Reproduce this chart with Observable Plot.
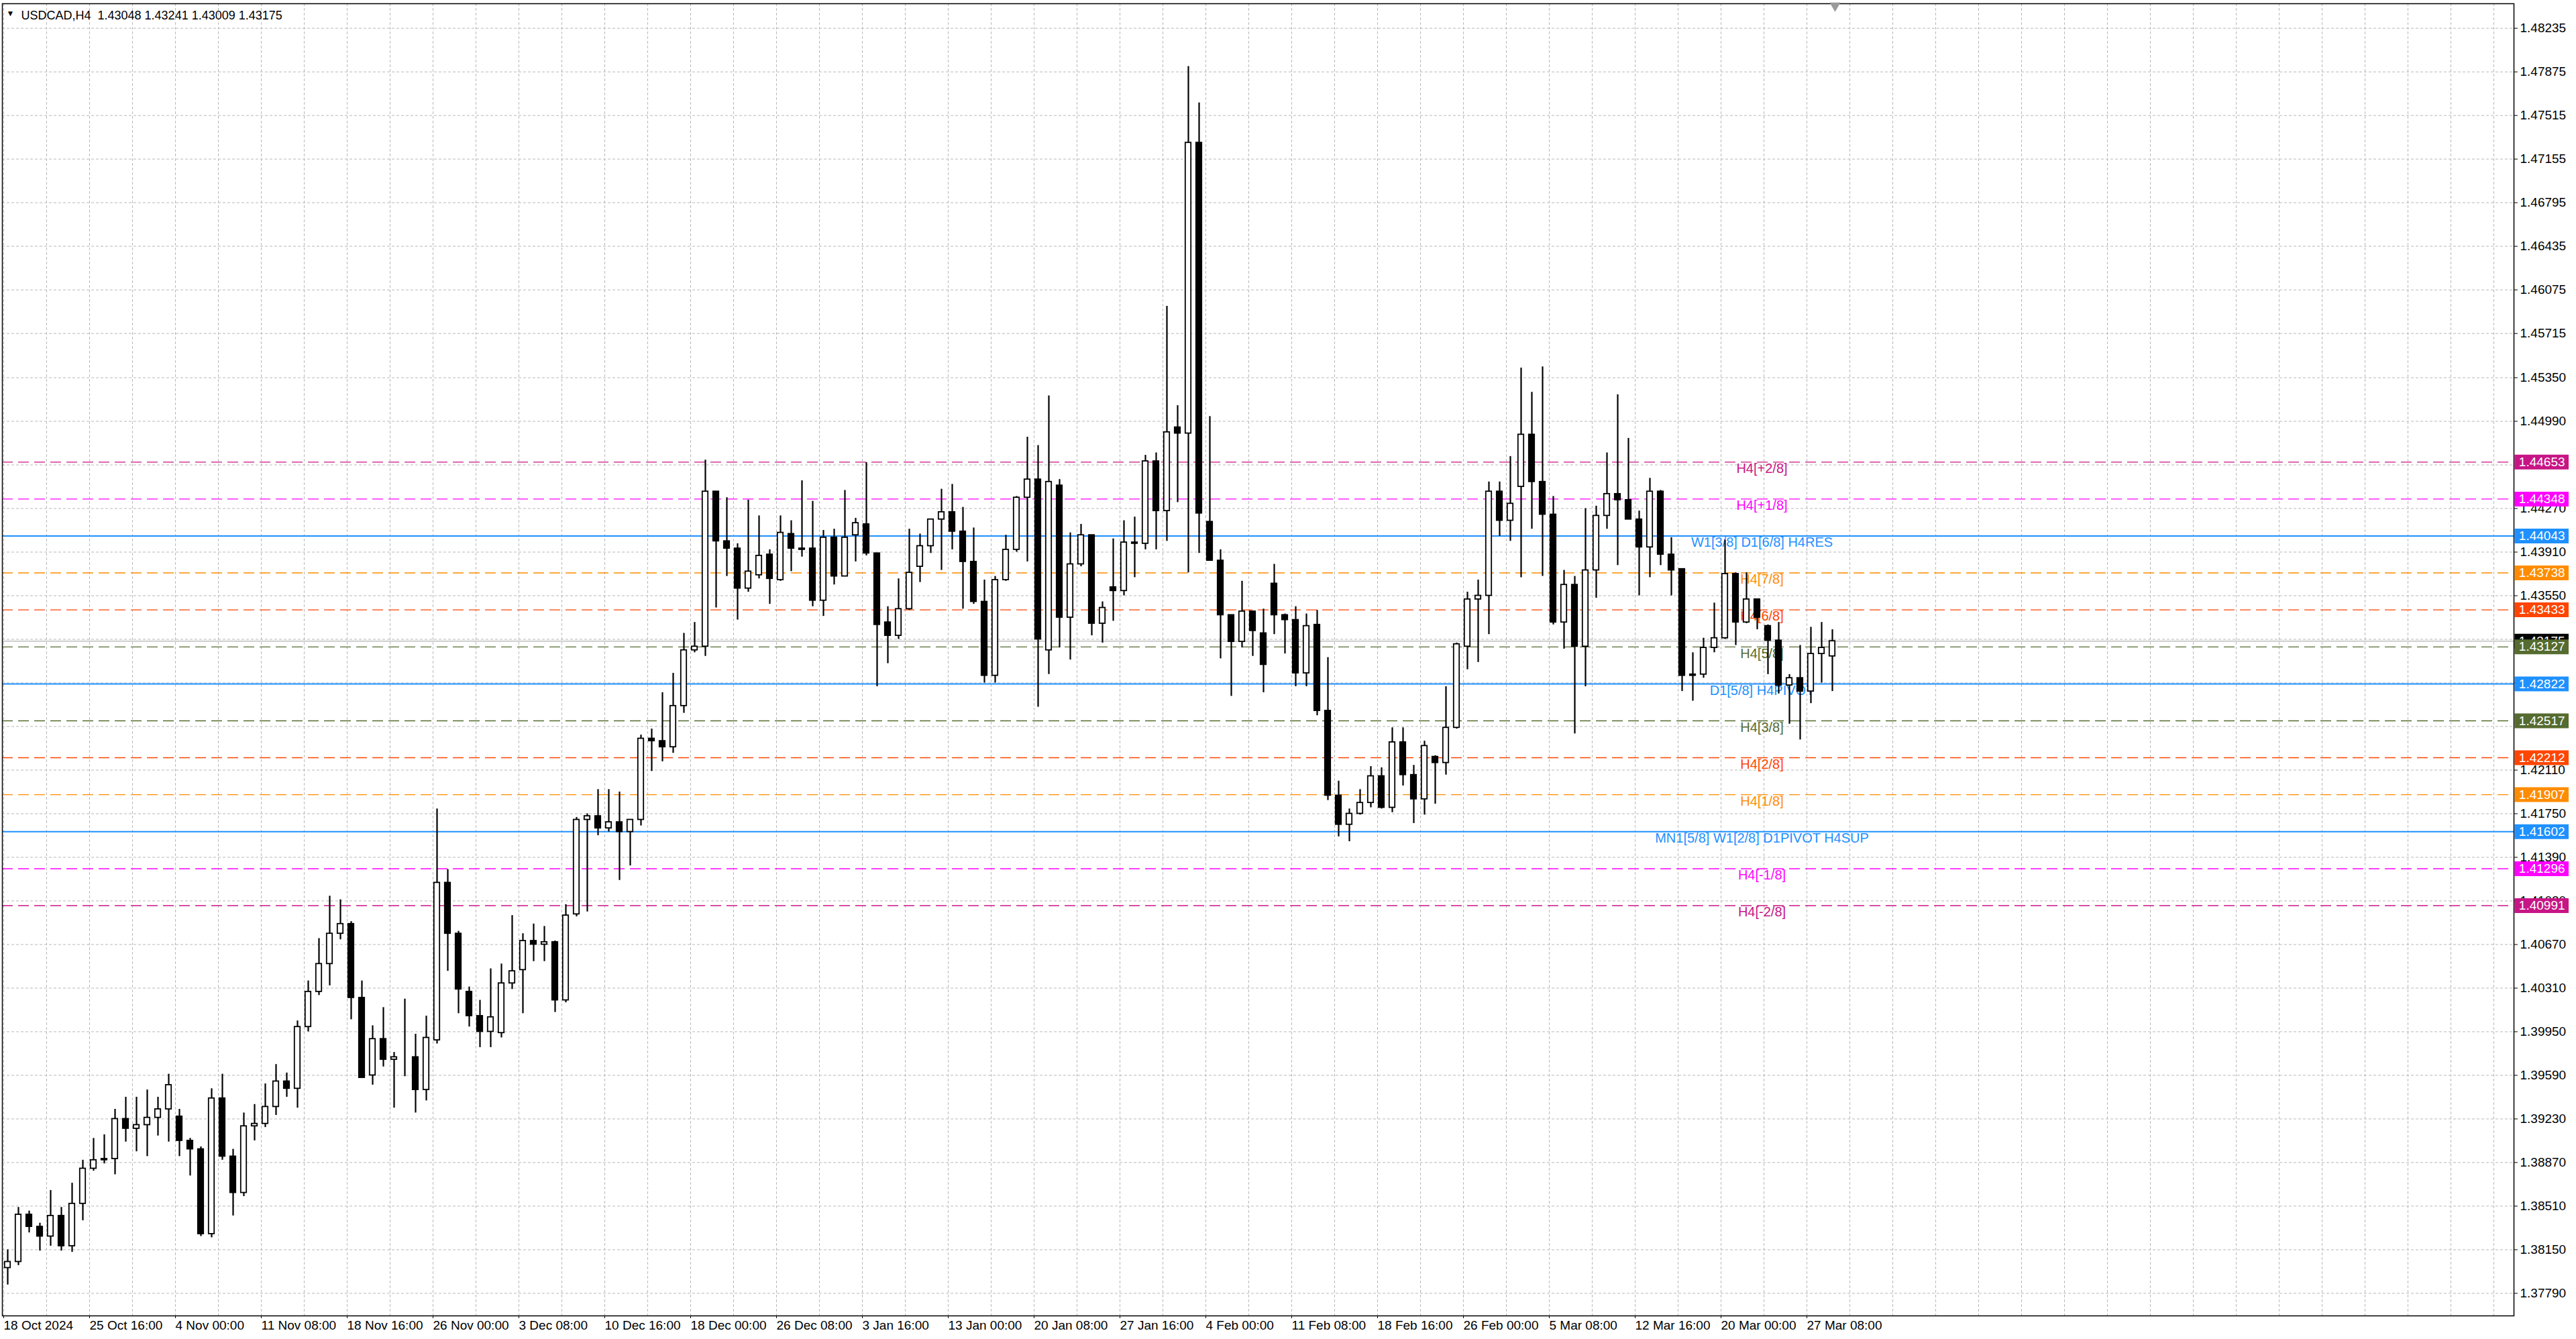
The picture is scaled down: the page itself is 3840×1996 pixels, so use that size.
<!DOCTYPE html>
<html>
<head>
<meta charset="utf-8">
<script src="https://cdn.jsdelivr.net/npm/d3@7"></script>
<script src="https://cdn.jsdelivr.net/npm/@observablehq/plot@0.6"></script>
<style>
  html, body { margin: 0; padding: 0; background: #fff; }
  #chart svg { display: block; }
</style>
</head>
<body>
<div id="chart"></div>
<script>
// USDCAD H4, one candle per 4 bars
const symbolTitle = 'USDCAD,H4'
const lastQuote = ['1.43048', '1.43241', '1.43009', '1.43175']

const open = [
  1.3800, 1.3805, 1.3844, 1.3834, 1.3826, 1.3843, 1.3818, 1.3853, 1.3882, 1.3889,
  1.3890, 1.3923, 1.3915, 1.3918, 1.3924, 1.3931, 1.3925, 1.3905, 1.3898, 1.3828,
  1.3940, 1.3892, 1.3862, 1.3917, 1.3919, 1.3933, 1.3954, 1.3948, 1.3999, 1.4028,
  1.4051, 1.4076, 1.4084, 1.4023, 1.3959, 1.3989, 1.3972, 1.3974, 1.3974, 1.3947,
  1.3988, 1.4118, 1.4076, 1.4028, 1.4008, 1.3995, 1.3994, 1.4035, 1.4046, 1.4070,
  1.4067, 1.4069, 1.4021, 1.4092, 1.4170, 1.4173, 1.4163, 1.4168, 1.4160, 1.4170,
  1.4237, 1.4235, 1.4230, 1.4264, 1.4310, 1.4313, 1.4441, 1.4400, 1.4394, 1.4361,
  1.4372, 1.4389, 1.4368, 1.4406, 1.4394, 1.4394, 1.4351, 1.4403, 1.4371, 1.4405,
  1.4414, 1.4390, 1.4333, 1.4322, 1.4344, 1.4379, 1.4396, 1.4418, 1.4424, 1.4408,
  1.4383, 1.4350, 1.4289, 1.4368, 1.4393, 1.4436, 1.4451, 1.4310, 1.4446, 1.4337,
  1.4381, 1.4405, 1.4332, 1.4362, 1.4359, 1.4399, 1.4398, 1.4466, 1.4425, 1.4494,
  1.4489, 1.4729, 1.4416, 1.4384, 1.4339, 1.4317, 1.4342, 1.4324, 1.4365, 1.4339,
  1.4335, 1.4291, 1.4331, 1.4260, 1.4190, 1.4166, 1.4175, 1.4184, 1.4206, 1.4180,
  1.4234, 1.4207, 1.4187, 1.4222, 1.4217, 1.4246, 1.4313, 1.4352, 1.4355, 1.4441,
  1.4417, 1.4445, 1.4488, 1.4449, 1.4422, 1.4333, 1.4364, 1.4313, 1.4376, 1.4421,
  1.4439, 1.4434, 1.4418, 1.4395, 1.4441, 1.4389, 1.4377, 1.4289, 1.4290, 1.4312,
  1.4320, 1.4373, 1.4333, 1.4352, 1.4330, 1.4318, 1.4281, 1.4287, 1.4276, 1.4307,
  1.4305
]
const high = [
  1.3815, 1.3850, 1.3847, 1.3837, 1.3864, 1.3850, 1.3870, 1.3889, 1.3907, 1.3910,
  1.3931, 1.3941, 1.3941, 1.3947, 1.3941, 1.3960, 1.3931, 1.3907, 1.3900, 1.3948,
  1.3960, 1.3898, 1.3928, 1.3935, 1.3952, 1.3968, 1.3961, 1.4004, 1.4037, 1.4072,
  1.4107, 1.4104, 1.4086, 1.4037, 1.4000, 1.4015, 1.3978, 1.4022, 1.3993, 1.4008,
  1.4179, 1.4129, 1.4078, 1.4032, 1.4021, 1.4047, 1.4051, 1.4091, 1.4076, 1.4084,
  1.4082, 1.4070, 1.4100, 1.4172, 1.4175, 1.4195, 1.4195, 1.4193, 1.4165, 1.4240,
  1.4245, 1.4275, 1.4291, 1.4324, 1.4333, 1.4467, 1.4441, 1.4436, 1.4398, 1.4434,
  1.4421, 1.4393, 1.4421, 1.4417, 1.4450, 1.4433, 1.4409, 1.4410, 1.4442, 1.4419,
  1.4465, 1.4390, 1.4346, 1.4369, 1.4410, 1.4406, 1.4418, 1.4443, 1.4447, 1.4428,
  1.4411, 1.4368, 1.4371, 1.4405, 1.4437, 1.4486, 1.4479, 1.4520, 1.4451, 1.4407,
  1.4414, 1.4405, 1.4350, 1.4402, 1.4417, 1.4420, 1.4471, 1.4473, 1.4594, 1.4512,
  1.4792, 1.4762, 1.4503, 1.4393, 1.4339, 1.4367, 1.4342, 1.4344, 1.4381, 1.4340,
  1.4346, 1.4340, 1.4343, 1.4304, 1.4202, 1.4179, 1.4195, 1.4214, 1.4213, 1.4246,
  1.4246, 1.4215, 1.4235, 1.4223, 1.4280, 1.4316, 1.4358, 1.4368, 1.4449, 1.4449,
  1.4470, 1.4543, 1.4523, 1.4544, 1.4437, 1.4376, 1.4371, 1.4427, 1.4429, 1.4473,
  1.4521, 1.4485, 1.4425, 1.4452, 1.4442, 1.4403, 1.4377, 1.4308, 1.4320, 1.4349,
  1.4401, 1.4374, 1.4374, 1.4352, 1.4331, 1.4333, 1.4290, 1.4314, 1.4329, 1.4333,
  1.4327
]
const low = [
  1.3786, 1.3802, 1.3829, 1.3814, 1.3818, 1.3814, 1.3813, 1.3839, 1.3880, 1.3886,
  1.3877, 1.3904, 1.3896, 1.3892, 1.3909, 1.3904, 1.3892, 1.3876, 1.3826, 1.3825,
  1.3889, 1.3843, 1.3859, 1.3905, 1.3916, 1.3926, 1.3941, 1.3932, 1.3995, 1.4025,
  1.4033, 1.4071, 1.4005, 1.3957, 1.3951, 1.3966, 1.3932, 1.3958, 1.3928, 1.3938,
  1.3985, 1.4045, 1.4010, 1.3999, 1.3982, 1.3982, 1.3990, 1.4030, 1.4010, 1.4053,
  1.4053, 1.4011, 1.4019, 1.4090, 1.4094, 1.4157, 1.4160, 1.4120, 1.4132, 1.4165,
  1.4210, 1.4218, 1.4225, 1.4258, 1.4308, 1.4305, 1.4345, 1.4371, 1.4335, 1.4358,
  1.4369, 1.4348, 1.4367, 1.4375, 1.4387, 1.4346, 1.4338, 1.4364, 1.4371, 1.4383,
  1.4388, 1.4280, 1.4299, 1.4319, 1.4343, 1.4366, 1.4390, 1.4376, 1.4393, 1.4344,
  1.4348, 1.4283, 1.4283, 1.4367, 1.4391, 1.4383, 1.4263, 1.4290, 1.4312, 1.4302,
  1.4379, 1.4322, 1.4316, 1.4334, 1.4355, 1.4370, 1.4393, 1.4393, 1.4400, 1.4432,
  1.4374, 1.4390, 1.4384, 1.4303, 1.4272, 1.4312, 1.4305, 1.4275, 1.4323, 1.4307,
  1.4280, 1.4280, 1.4256, 1.4186, 1.4156, 1.4152, 1.4174, 1.4180, 1.4179, 1.4176,
  1.4198, 1.4167, 1.4174, 1.4183, 1.4207, 1.4245, 1.4294, 1.4300, 1.4323, 1.4404,
  1.4400, 1.4370, 1.4410, 1.4371, 1.4331, 1.4311, 1.4241, 1.4280, 1.4353, 1.4410,
  1.4380, 1.4418, 1.4355, 1.4370, 1.4380, 1.4355, 1.4276, 1.4268, 1.4287, 1.4308,
  1.4319, 1.4314, 1.4332, 1.4327, 1.4290, 1.4274, 1.4249, 1.4236, 1.4266, 1.4283,
  1.4276
]
const close = [
  1.3805, 1.3844, 1.3834, 1.3826, 1.3843, 1.3818, 1.3853, 1.3882, 1.3889, 1.3890,
  1.3923, 1.3915, 1.3918, 1.3924, 1.3931, 1.3951, 1.3905, 1.3898, 1.3828, 1.3940,
  1.3892, 1.3862, 1.3917, 1.3919, 1.3933, 1.3954, 1.3948, 1.3999, 1.4028, 1.4051,
  1.4076, 1.4084, 1.4023, 1.3957, 1.3989, 1.3972, 1.3974, 1.3974, 1.3947, 1.3990,
  1.4118, 1.4076, 1.4030, 1.4008, 1.3995, 1.4007, 1.4035, 1.4045, 1.4070, 1.4067,
  1.4069, 1.4021, 1.4091, 1.4170, 1.4173, 1.4163, 1.4168, 1.4160, 1.4170, 1.4237,
  1.4235, 1.4230, 1.4264, 1.4310, 1.4313, 1.4441, 1.4400, 1.4394, 1.4361, 1.4375,
  1.4388, 1.4369, 1.4407, 1.4394, 1.4393, 1.4351, 1.4403, 1.4371, 1.4403, 1.4415,
  1.4390, 1.4331, 1.4322, 1.4344, 1.4374, 1.4396, 1.4418, 1.4424, 1.4408, 1.4383,
  1.4350, 1.4289, 1.4368, 1.4393, 1.4436, 1.4451, 1.4319, 1.4449, 1.4337, 1.4381,
  1.4405, 1.4332, 1.4345, 1.4359, 1.4399, 1.4398, 1.4466, 1.4425, 1.4490, 1.4489,
  1.4729, 1.4423, 1.4384, 1.4339, 1.4317, 1.4342, 1.4326, 1.4298, 1.4339, 1.4335,
  1.4291, 1.4330, 1.4260, 1.4190, 1.4166, 1.4175, 1.4184, 1.4206, 1.4180, 1.4234,
  1.4207, 1.4187, 1.4231, 1.4217, 1.4246, 1.4315, 1.4352, 1.4355, 1.4441, 1.4417,
  1.4431, 1.4488, 1.4449, 1.4422, 1.4333, 1.4364, 1.4313, 1.4376, 1.4421, 1.4439,
  1.4434, 1.4418, 1.4395, 1.4441, 1.4389, 1.4376, 1.4289, 1.4290, 1.4312, 1.4320,
  1.4373, 1.4333, 1.4352, 1.4337, 1.4318, 1.4281, 1.4287, 1.4276, 1.4307, 1.4312,
  1.43175
]

// Murrey / pivot levels
const levelPrices = [1.44653, 1.44348, 1.44043, 1.43738, 1.43433, 1.43127, 1.42822,
                     1.42517, 1.42212, 1.41907, 1.41602, 1.41296, 1.40991]
const levelNames = ['H4[+2/8]', 'H4[+1/8]', 'W1[3/8] D1[6/8] H4RES', 'H4[7/8]', 'H4[6/8]', 'H4[5/8]',
                    'D1[5/8] H4PIVOT', 'H4[3/8]', 'H4[2/8]', 'H4[1/8]', 'MN1[5/8] W1[2/8] D1PIVOT H4SUP',
                    'H4[-1/8]', 'H4[-2/8]']
const levelKinds = ['mm2', 'mm1', 'pivot', 'mm7', 'mm6', 'mm5', 'pivot', 'mm5', 'mm6', 'mm7', 'pivot', 'mm1', 'mm2']
const bidPrice = 1.43175

// axis ticks (grid on every step; a few labels sit under the price boxes)
const priceTickLabels = ['1.37790', '1.38150', '1.38510', '1.38870', '1.39230', '1.39590', '1.39950',
  '1.40310', '1.40670', '1.41030', '1.41390', '1.41750', '1.42110', '1.42470', '1.42830', '1.43190',
  '1.43550', '1.43910', '1.44270', '1.44630', '1.44990', '1.45350', '1.45715', '1.46075', '1.46435',
  '1.46795', '1.47155', '1.47515', '1.47875', '1.48235']
const coveredTickLabels = ['1.42470', '1.43190', '1.44630']
const timeLabels = ['18 Oct 2024', '25 Oct 16:00', '4 Nov 00:00', '11 Nov 08:00', '18 Nov 16:00',
  '26 Nov 00:00', '3 Dec 08:00', '10 Dec 16:00', '18 Dec 00:00', '26 Dec 08:00', '3 Jan 16:00',
  '13 Jan 00:00', '20 Jan 08:00', '27 Jan 16:00', '4 Feb 00:00', '11 Feb 08:00', '18 Feb 16:00',
  '26 Feb 00:00', '5 Mar 08:00', '12 Mar 16:00', '20 Mar 00:00', '27 Mar 08:00']

// styles
const kindColor = {
  mm2: '#C71585', mm1: '#FF00FF', pivot: '#1E90FF',
  mm7: '#FF8C00', mm6: '#FF4500', mm5: '#556B2F'
}
const barsPerCandle = 4
const barsPerLabel = 32
const lastBar = 935.5

const candles = open.map((o, i) => ({
  bar: i * barsPerCandle + 1.5, open: o, high: high[i], low: low[i], close: close[i]
}))
const levels = levelPrices.map((p, i) => ({
  price: p, name: levelNames[i], color: kindColor[levelKinds[i]], dashed: levelKinds[i] !== 'pivot'
}))
const priceTicks = priceTickLabels.map(Number)
const labelledTicks = priceTickLabels.filter(t => !coveredTickLabels.includes(t)).map(Number)
const timeTicks = timeLabels.map((t, i) => i * barsPerLabel)

const font = "'Liberation Sans', Arial, sans-serif"
const boxX1 = lastBar + 0.35
const boxX2 = lastBar + 20.5
const boxMid = (boxX1 + boxX2) / 2

const chart = Plot.plot({
  width: 3840,
  height: 1996,
  marginLeft: 3,
  marginRight: 93,
  marginTop: 5,
  marginBottom: 35,
  style: { fontFamily: font, fontSize: '19px', background: '#fff', color: '#000' },
  x: { domain: [-0.5, lastBar], axis: null },
  y: { domain: [1.37604, 1.48438], axis: null },
  marks: [
    Plot.gridY(priceTicks, { stroke: '#b8b8b8', strokeOpacity: 1, strokeDasharray: '4,3' }),
    Plot.gridX(d3.range(0, lastBar, 16), { stroke: '#b8b8b8', strokeOpacity: 1, strokeDasharray: '4,3' }),

    // levels
    Plot.ruleY(levels.filter(d => d.dashed), {
      y: 'price', stroke: 'color', strokeWidth: 1.4, strokeDasharray: '16,8'
    }),
    Plot.ruleY(levels.filter(d => !d.dashed), { y: 'price', stroke: 'color', strokeWidth: 2 }),
    Plot.ruleY([bidPrice], { stroke: '#bfbfbf', strokeWidth: 1.6 }),
    Plot.text(levels, {
      x: 655.25, y: 'price', text: 'name', fill: 'color',
      lineAnchor: 'top', dy: 2, fontSize: 20
    }),

    // candles
    Plot.ruleX(candles, { x: 'bar', y1: 'low', y2: 'high', stroke: '#000', strokeWidth: 2.2 }),
    Plot.rect(candles, {
      x1: d => d.bar - 1.05, x2: d => d.bar + 1.05, y1: 'open', y2: 'close',
      fill: d => d.close >= d.open ? '#fff' : '#000', stroke: '#000', strokeWidth: 1.8
    }),

    Plot.frame({ stroke: '#000', strokeWidth: 1.5 }),

    // price scale on the right
    Plot.axisY(labelledTicks, {
      anchor: 'right', tickSize: 5, tickPadding: 4, tickFormat: d => d.toFixed(5),
      label: null, fontSize: 19, stroke: '#000'
    }),
    Plot.ruleY([bidPrice], { x1: boxX1, x2: boxX2, stroke: '#000', strokeWidth: 22 }),
    Plot.text([bidPrice], { x: boxMid, y: d => d, text: d => d.toFixed(5), fill: '#fff', fontSize: 19 }),
    Plot.ruleY(levels, { y: 'price', x1: boxX1, x2: boxX2, stroke: 'color', strokeWidth: 22 }),
    Plot.text(levels, { x: boxMid, y: 'price', text: d => d.price.toFixed(5), fill: '#fff', fontSize: 19 }),

    // time scale
    Plot.axisX(timeTicks, {
      anchor: 'bottom', tickSize: 4, tickPadding: 3, textAnchor: 'start', dx: 0,
      tickFormat: d => timeLabels[d / barsPerLabel], label: null, fontSize: 19
    }),

    // header and shift marker
    Plot.text(['\u25BC'], { frameAnchor: 'top-left', dx: 6, dy: 10, fontSize: 12, textAnchor: 'start' }),
    Plot.text([`${symbolTitle}  ${lastQuote.join(' ')}`], {
      frameAnchor: 'top-left', dx: 28, dy: 11, fontSize: 18, textAnchor: 'start'
    }),
    Plot.dot([0], { x: 682.5, frameAnchor: 'top', symbol: 'triangle', rotate: 180, r: 6, fill: '#9a9a9a', dy: 3 })
  ]
})

d3.select('#chart').append(() => chart)
</script>
</body>
</html>
